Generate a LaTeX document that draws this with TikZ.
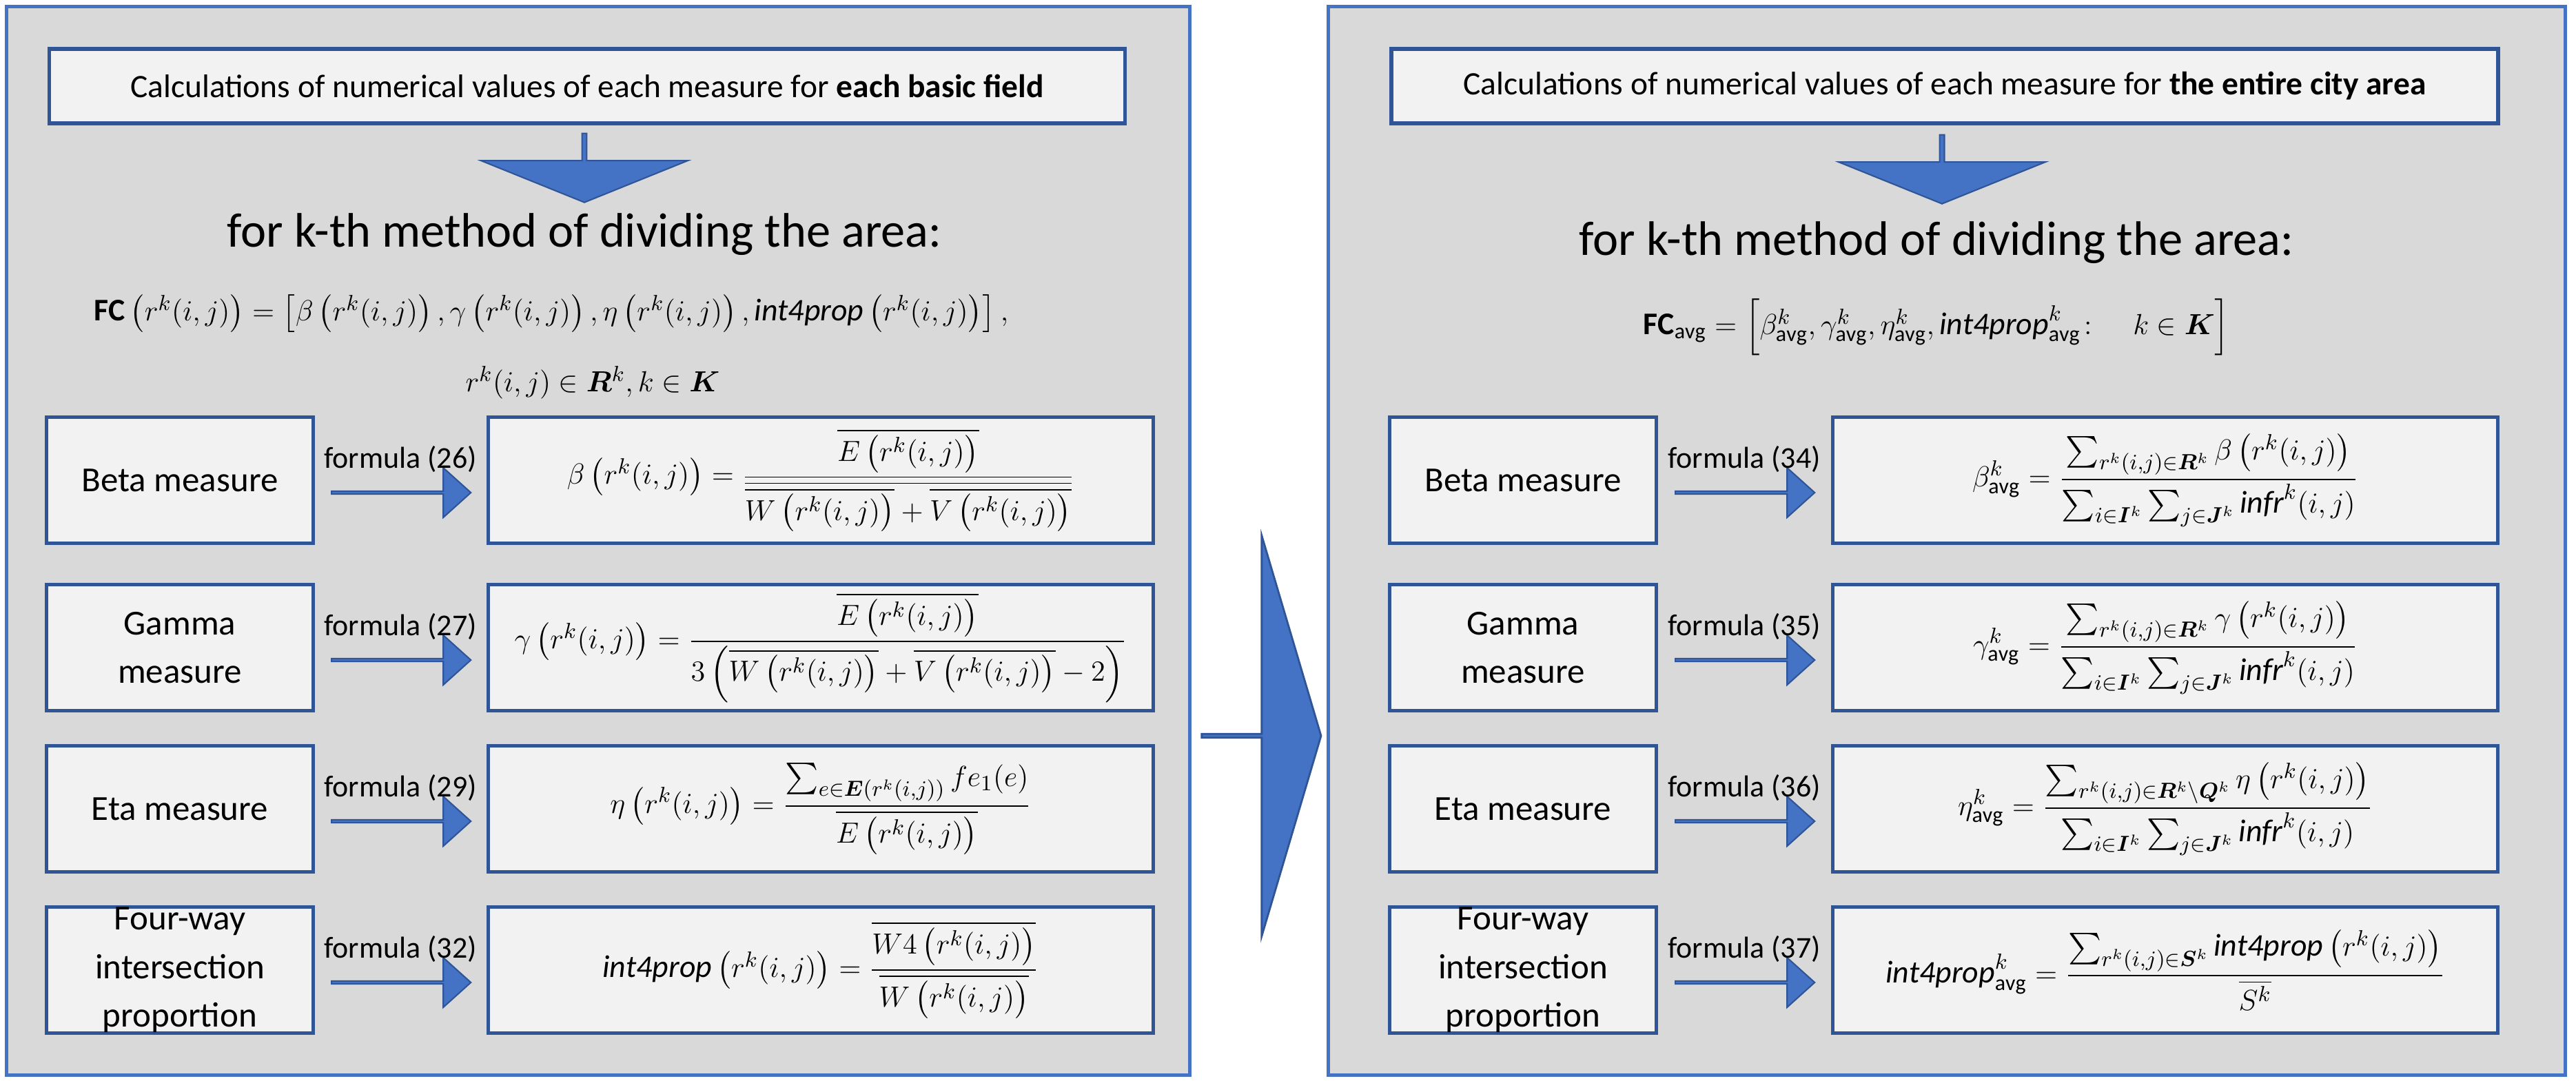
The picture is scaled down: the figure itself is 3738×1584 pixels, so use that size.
\documentclass[tikz,border=0pt]{standalone}
\usepackage{amsmath,amssymb,bm}
\usepackage{fontspec}
\setmainfont{Carlito}
\usetikzlibrary{shapes.arrows,positioning}
\definecolor{pfill}{HTML}{D9D9D9}
\definecolor{pline}{HTML}{4472C4}
\definecolor{bfill}{HTML}{F2F2F2}
\definecolor{bline}{HTML}{2F5597}
\begin{document}
\begin{tikzpicture}[x=0.01cm,y=-0.01cm,
  panel/.style={draw=pline,fill=pfill,line width=1.2pt,inner sep=0pt},
  box/.style={draw=bline,fill=bfill,line width=1.5pt,align=center,font=\fontsize{14.5}{20}\selectfont},
  fbox/.style={draw=bline,fill=bfill,line width=1.5pt,font=\fontsize{13}{16}\selectfont},
  rarr/.style={single arrow,draw=bline,fill=pline,line width=0.6pt,minimum height=2.02cm,minimum width=0.72cm,single arrow head extend=0.17cm,single arrow tip angle=84,inner sep=0pt,shape border rotate=0},
  darr/.style={single arrow,draw=bline,fill=pline,line width=0.6pt,minimum height=1.0cm,minimum width=3.0cm,single arrow head extend=0.45cm,single arrow tip angle=136,inner sep=0pt,shape border rotate=270},
  flab/.style={font=\fontsize{12.5}{15}\selectfont},
  big/.style={font=\fontsize{20}{24}\selectfont}]
\useasboundingbox (0,0) rectangle (3738,1584);
\fill[white] (0,0) rectangle (3738,1584);
% panels
\node[panel,minimum width=17.16cm,minimum height=15.5cm] (pl) at (868,785) {};
\node[panel,minimum width=17.94cm,minimum height=15.5cm] (pr) at (2825,785) {};
% big arrow
\node[single arrow,draw=bline,fill=pline,line width=0.8pt,minimum height=1.73cm,minimum width=5.81cm,single arrow head extend=1.49cm,single arrow tip angle=147,inner sep=0pt,shape border rotate=0] (big) at (1830,1068) {};
% left
\node[fbox,minimum width=15.6cm,minimum height=1.08cm] (lt) at (852,125) {\fontsize{13.5}{16}\selectfont Calculations of numerical values of each measure for \textbf{each basic field}};
\node[darr] (lda) at (848,243) {};
\node[big] (lk) at (848,340) {for k-th method of dividing the area:};
\node[flab] (lfc) at (800,455) {\fontsize{13}{16}\selectfont$\mathbf{FC}\left(r^k(i,j)\right)=\left[\beta\left(r^k(i,j)\right),\gamma\left(r^k(i,j)\right),\eta\left(r^k(i,j)\right),\mathit{int4prop}\left(r^k(i,j)\right)\right],$};
\node[flab] (lr) at (860,555) {\fontsize{13}{16}\selectfont$r^k(i,j)\in\bm{R}^k,k\in\bm{K}$};
% right
\node[fbox,minimum width=16.05cm,minimum height=1.08cm] (rt) at (2822,125) {\fontsize{13.5}{16}\selectfont Calculations of numerical values of each measure for \textbf{the entire city area}};
\node[darr] (rda) at (2818,245) {};
\node[big] (rk) at (2810,352) {for k-th method of dividing the area:};
\node[flab] (rfc) at (2810,475) {\fontsize{13}{16}\selectfont$\mathbf{FC}_{\mathrm{avg}}=\left[\beta^k_{\mathrm{avg}},\gamma^k_{\mathrm{avg}},\eta^k_{\mathrm{avg}},\mathit{int4prop}^k_{\mathrm{avg}}\colon\quad k\in\bm{K}\right]$};
% rows
\foreach \y [count=\i] in {697,940,1174,1408}{
  \node[box,minimum width=3.87cm,minimum height=1.83cm] (L\i) at (261,\y) {};
  \node[fbox,minimum width=9.65cm,minimum height=1.83cm] (LF\i) at (1191,\y) {};
  \node[rarr] (LA\i) at (581,\y+18) {};
  \node[box,minimum width=3.87cm,minimum height=1.83cm] (R\i) at (2210,\y) {};
  \node[fbox,minimum width=9.65cm,minimum height=1.83cm] (RF\i) at (3142,\y) {};
  \node[rarr] (RA\i) at (2531,\y+18) {};
}
\node[box,draw=none,fill=none] at (L1) {Beta measure};
\node[box,draw=none,fill=none] at (L2) {Gamma\\measure};
\node[box,draw=none,fill=none] at (L3) {Eta measure};
\node[box,draw=none,fill=none] at (L4) {Four-way\\intersection\\proportion};
\node[box,draw=none,fill=none] at (R1) {Beta measure};
\node[box,draw=none,fill=none] at (R2) {Gamma\\measure};
\node[box,draw=none,fill=none] at (R3) {Eta measure};
\node[box,draw=none,fill=none] at (R4) {Four-way\\intersection\\proportion};
\node[flab,above=4pt of LA1] {formula (26)};
\node[flab,above=4pt of LA2] {formula (27)};
\node[flab,above=4pt of LA3] {formula (29)};
\node[flab,above=4pt of LA4] {formula (32)};
\node[flab,above=4pt of RA1] {formula (34)};
\node[flab,above=4pt of RA2] {formula (35)};
\node[flab,above=4pt of RA3] {formula (36)};
\node[flab,above=4pt of RA4] {formula (37)};
\node[flab] at (LF1) {\fontsize{13}{16}\selectfont$\beta\left(r^k(i,j)\right)=\dfrac{\overline{E\left(r^k(i,j)\right)}}{\overline{\overline{W\left(r^k(i,j)\right)}+\overline{V\left(r^k(i,j)\right)}}}$};
\node[flab] at (LF2) {\fontsize{13}{16}\selectfont$\gamma\left(r^k(i,j)\right)=\dfrac{\overline{E\left(r^k(i,j)\right)}}{3\left(\overline{W\left(r^k(i,j)\right)}+\overline{V\left(r^k(i,j)\right)}-2\right)}$};
\node[flab] at (LF3) {\fontsize{13}{16}\selectfont$\eta\left(r^k(i,j)\right)=\dfrac{\sum_{e\in\bm{E}\left(r^k(i,j)\right)}fe_1(e)}{\overline{E\left(r^k(i,j)\right)}}$};
\node[flab] at (LF4) {\fontsize{13}{16}\selectfont$\mathit{int4prop}\left(r^k(i,j)\right)=\dfrac{\overline{W4\left(r^k(i,j)\right)}}{\overline{W\left(r^k(i,j)\right)}}$};
\node[flab] at (RF1) {\fontsize{13}{16}\selectfont$\beta^k_{\mathrm{avg}}=\dfrac{\sum_{r^k(i,j)\in\bm{R}^k}\beta\left(r^k(i,j)\right)}{\sum_{i\in\bm{I}^k}\sum_{j\in\bm{J}^k}\mathit{infr}^k(i,j)}$};
\node[flab] at (RF2) {\fontsize{13}{16}\selectfont$\gamma^k_{\mathrm{avg}}=\dfrac{\sum_{r^k(i,j)\in\bm{R}^k}\gamma\left(r^k(i,j)\right)}{\sum_{i\in\bm{I}^k}\sum_{j\in\bm{J}^k}\mathit{infr}^k(i,j)}$};
\node[flab] at (RF3) {\fontsize{13}{16}\selectfont$\eta^k_{\mathrm{avg}}=\dfrac{\sum_{r^k(i,j)\in\bm{R}^k\setminus\bm{Q}^k}\eta\left(r^k(i,j)\right)}{\sum_{i\in\bm{I}^k}\sum_{j\in\bm{J}^k}\mathit{infr}^k(i,j)}$};
\node[flab] at (RF4) {\fontsize{13}{16}\selectfont$\mathit{int4prop}^k_{\mathrm{avg}}=\dfrac{\sum_{r^k(i,j)\in\bm{S}^k}\mathit{int4prop}\left(r^k(i,j)\right)}{\overline{S^k}}$};
\end{tikzpicture}
\end{document}
